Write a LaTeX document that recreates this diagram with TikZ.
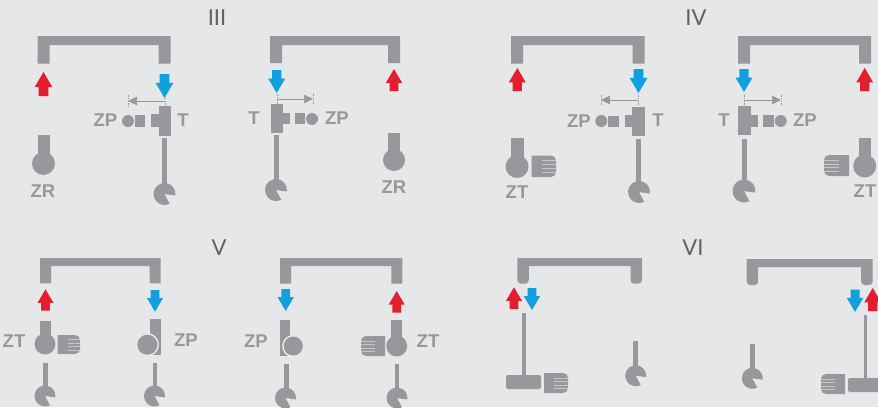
\documentclass[tikz,border=0pt]{standalone}
\usepackage{fontspec}
\usepackage{xcolor}
\setmainfont{Liberation Sans}
\newfontfamily\titlefont{Lato}
\usetikzlibrary{arrows.meta}

\definecolor{panelbg}{HTML}{E6E7E9}
\definecolor{pipegray}{HTML}{97989B}
\definecolor{hotred}{HTML}{E31E2D}
\definecolor{coldblue}{HTML}{10A0DE}

\tikzset{
  pipe/.style={fill=pipegray,draw=none},
  tag/.style={font=\bfseries\fontsize{18.5}{18.5}\selectfont,text=pipegray,inner sep=0pt},
  paneltitle/.style={font=\titlefont\fontsize{22}{22}\selectfont,text=black!62,inner sep=0pt},
  dimline/.style={draw=pipegray,line width=0.6pt,dash pattern=on 1.6pt off 1.2pt},
  dimarrow/.style={draw=pipegray,line width=0.6pt,-{Triangle[length=9pt,width=8.5pt]}}
}

% #1 colour, #2 x, #3 y of the tail, #4 y of the tip
\newcommand{\flowarrow}[4]{%
  \pgfmathsetmacro{\heady}{#3+0.37*(#4-#3)}%
  \pgfmathsetmacro{\halfw}{0.37*abs(#4-#3)}%
  \pgfmathsetmacro{\halfs}{0.2*abs(#4-#3)}%
  \fill[#1] (#2-\halfs,#3) -- (#2+\halfs,#3) -- (#2+\halfs,\heady) -- (#2+\halfw,\heady)
    -- (#2,#4) -- (#2-\halfw,\heady) -- (#2-\halfs,\heady) -- cycle;
}
% #1 left, #2 right, #3 top, #4 bottom, #5 side width, #6 top thickness
\newcommand{\pipeframe}[6]{%
  \fill[pipe] (#1,#4) -- (#1,#3) -- (#2,#3) -- (#2,#4) -- (#2-#5,#4) -- (#2-#5,#3+#6)
    -- (#1+#5,#3+#6) -- (#1+#5,#4) -- cycle;
}
\newcommand{\roundframe}[6]{%
  \fill[pipe] (#1+#5/2,#4) [rounded corners=3.5pt] -- (#1,#4) [sharp corners] -- (#1,#3) -- (#2,#3)
    [rounded corners=3.5pt] -- (#2,#4) -- (#2-#5,#4) [sharp corners] -- (#2-#5,#3+#6)
    -- (#1+#5,#3+#6) [rounded corners=3.5pt] -- (#1+#5,#4) -- cycle;
}
% #1 x, #2 y, #3 radius
\newcommand{\cutball}[3]{%
  \fill[pipe] (#1,#2) -- ++(-8:#3pt) arc[start angle=-8,end angle=298,radius=#3pt] -- cycle;
}
% #1 left, #2 right, #3 top, #4 bottom
\newcommand{\knobright}[4]{%
  \fill[pipe] (#1,#3) [rounded corners=5pt] -- (#2,#3) -- (#2,#4) [sharp corners] -- (#1,#4) -- cycle;
  \foreach \f in {0.24,0.42,0.6,0.78}
    \draw[panelbg!60!pipegray,line width=0.4pt] (#1+10,{#3+\f*(#4-#3)}) -- (#2,{#3+\f*(#4-#3)});
}
\newcommand{\knobleft}[4]{%
  \fill[pipe] (#2,#3) [rounded corners=5pt] -- (#1,#3) -- (#1,#4) [sharp corners] -- (#2,#4) -- cycle;
  \foreach \f in {0.24,0.42,0.6,0.78}
    \draw[panelbg!60!pipegray,line width=0.4pt] (#1,{#3+\f*(#4-#3)}) -- (#2-10,{#3+\f*(#4-#3)});
}
% #1 x, #2 y, #3 radius, #4 middle of the light arc next to the bar
\newcommand{\ringball}[4]{%
  \fill[pipe] (#1,#2) circle[radius=#3pt];
  \draw[panelbg!40!white,line width=1.2pt] (#1,#2) ++(#4-75:#3pt+0.9pt)
    arc[start angle=#4-75,end angle=#4+75,radius=#3pt+0.9pt];
}
% #1 x at the valve, #2 x at the far end, #3 y, #4 top, #5 bottom
\newcommand{\dimmark}[5]{%
  \draw[dimline] (#1,#4) -- (#1,#5);
  \draw[dimline] (#2,#4) -- (#2,#5);
  \draw[dimarrow] (#1,#3) -- (#2,#3);
}

\begin{document}
\begin{tikzpicture}[x=1pt,y=-1pt]
  \useasboundingbox (0,0) rectangle (878,407);
  \fill[panelbg] (0,0) rectangle (878,407);
  \clip (0,0) rectangle (878,407);

  % titles
  \node[paneltitle] (titleIII) at (217,18) {III};
  \node[paneltitle] (titleIV) at (696,18) {IV};
  \node[paneltitle] (titleV) at (219,248) {V};
  \node[paneltitle] (titleVI) at (693,248) {VI};

  % III, left
  \pipeframe{37.5}{170.5}{36}{63.5}{12}{9}
  \flowarrow{hotred}{43.5}{96}{72}
  \flowarrow{coldblue}{164.5}{74}{98}
  \dimmark{165}{128}{101}{95}{107}
  \fill[pipe] (158.5,106) rectangle (170.5,136);
  \fill[pipe] (151,114) rectangle (158.5,127);
  \fill[pipe] (135,115) rectangle (145,127);
  \fill[pipe] (128,121) circle[radius=6pt];
  \fill[pipe] (161.5,138) rectangle (167,185);
  \cutball{164.5}{194}{11}
  \fill[pipe] (37.5,135) rectangle (50,155);
  \fill[pipe] (43.5,163.5) circle[radius=11.5pt];
  \node[tag] (zpA) at (105.5,120) {ZP};
  \node[tag] (tA) at (183,120) {T};
  \node[tag] (zrA) at (43,191) {ZR};

  % III, right
  \pipeframe{270}{400}{36}{63}{12}{9}
  \flowarrow{coldblue}{276.7}{70}{93}
  \flowarrow{hotred}{394}{91}{69}
  \dimmark{277}{313}{99}{94}{105}
  \fill[pipe] (270.5,104) rectangle (282.5,133);
  \fill[pipe] (282.5,113) rectangle (290,124);
  \fill[pipe] (295,113) rectangle (305,124);
  \fill[pipe] (312,119) circle[radius=6pt];
  \fill[pipe] (274,135) rectangle (279,182);
  \cutball{276}{190}{11}
  \fill[pipe] (388.3,133) rectangle (400,155);
  \fill[pipe] (394,160) circle[radius=11pt];
  \node[tag] (zpB) at (337,118) {ZP};
  \node[tag] (tB) at (254,118) {T};
  \node[tag] (zrB) at (394,187) {ZR};

  % IV, left
  \pipeframe{511}{644.5}{36}{63.5}{12}{9}
  \flowarrow{hotred}{517.3}{91}{68}
  \flowarrow{coldblue}{638.5}{69}{93}
  \dimmark{638}{601}{100}{95}{106}
  \fill[pipe] (632,107) rectangle (644.5,136);
  \fill[pipe] (625,115) rectangle (632,127);
  \fill[pipe] (607.7,116) rectangle (619,127);
  \fill[pipe] (601.3,121) circle[radius=6pt];
  \fill[pipe] (635.5,139) rectangle (641,184);
  \cutball{639}{192}{11}
  \fill[pipe] (511,138) rectangle (523.5,160);
  \fill[pipe] (517,166.5) circle[radius=11.5pt];
  \knobright{531.5}{556}{155.5}{177}
  \node[tag] (zpC) at (579,121) {ZP};
  \node[tag] (tC) at (658,120) {T};
  \node[tag] (ztC) at (517,192) {ZT};

  % IV, right
  \pipeframe{738}{871}{36}{63.5}{12}{9}
  \flowarrow{coldblue}{744}{69}{92}
  \flowarrow{hotred}{864.7}{91}{68}
  \dimmark{744}{781}{100}{95}{106}
  \fill[pipe] (738,106) rectangle (750.5,135);
  \fill[pipe] (750.5,115) rectangle (758,126.5);
  \fill[pipe] (763,115) rectangle (774,127);
  \fill[pipe] (780.7,121) circle[radius=6pt];
  \fill[pipe] (741.5,139) rectangle (747,183);
  \cutball{744}{191}{11.5}
  \fill[pipe] (859,138) rectangle (871,160);
  \fill[pipe] (864.7,166) circle[radius=11.5pt];
  \knobleft{824}{849}{155}{176}
  \node[tag] (zpD) at (805,120) {ZP};
  \node[tag] (tD) at (724,120) {T};
  \node[tag] (ztD) at (865,191) {ZT};

  % V, left
  \pipeframe{40}{160.5}{258}{283.3}{11}{8}
  \flowarrow{hotred}{45.5}{310.7}{289.3}
  \flowarrow{coldblue}{155}{290}{311.7}
  \fill[pipe] (40,321) rectangle (51,340);
  \fill[pipe] (45,344) circle[radius=10.5pt];
  \knobright{57.5}{80}{335}{354}
  \fill[pipe] (43.3,362.5) rectangle (48,390);
  \cutball{45}{396}{10.5}
  \fill[pipe] (149.5,319) rectangle (160.5,355);
  \ringball{147.3}{344.7}{10}{0}
  \fill[pipe] (152.7,362.5) rectangle (157,390);
  \cutball{154.5}{396}{10.5}
  \node[tag] (ztE) at (14,341) {ZT};
  \node[tag] (zpE) at (186,340) {ZP};

  % V, right
  \pipeframe{280}{402.3}{258}{283.5}{11}{8}
  \flowarrow{coldblue}{285.7}{289}{311}
  \flowarrow{hotred}{396.7}{312.7}{291}
  \fill[pipe] (279.5,320) rectangle (290,356);
  \ringball{293.3}{346}{9.5}{180}
  \fill[pipe] (283.5,364) rectangle (288.5,392);
  \cutball{285.5}{398}{10.5}
  \fill[pipe] (391,320) rectangle (402,340);
  \fill[pipe] (396.7,346) circle[radius=10.5pt];
  \knobleft{361}{385}{336}{356}
  \fill[pipe] (394.7,364) rectangle (399,392);
  \cutball{397}{398}{10.5}
  \node[tag] (zpF) at (256,341) {ZP};
  \node[tag] (ztF) at (428,341) {ZT};

  % VI, left
  \roundframe{517.3}{642}{258}{283.5}{11.5}{8}
  \flowarrow{hotred}{514}{309}{287.3}
  \flowarrow{coldblue}{532}{288}{310}
  \fill[pipe] (522.3,313) rectangle (525.5,376);
  \fill[pipe,rounded corners=2pt] (506,375) rectangle (541,389);
  \knobright{544}{568}{373}{393}
  \fill[pipe] (633.3,341) rectangle (638,368);
  \cutball{635.7}{375.7}{10.5}

  % VI, right
  \roundframe{746.7}{872.7}{259}{285}{11.5}{8}
  \flowarrow{coldblue}{855}{289.5}{312}
  \flowarrow{hotred}{872.7}{311}{288}
  \fill[pipe] (864,315) rectangle (867,379);
  \fill[pipe,rounded corners=2pt] (848,378) rectangle (890,392);
  \knobleft{821}{845}{374}{394}
  \fill[pipe] (750,344) rectangle (755.3,371);
  \cutball{752.3}{378.3}{10.5}
\end{tikzpicture}
\end{document}
